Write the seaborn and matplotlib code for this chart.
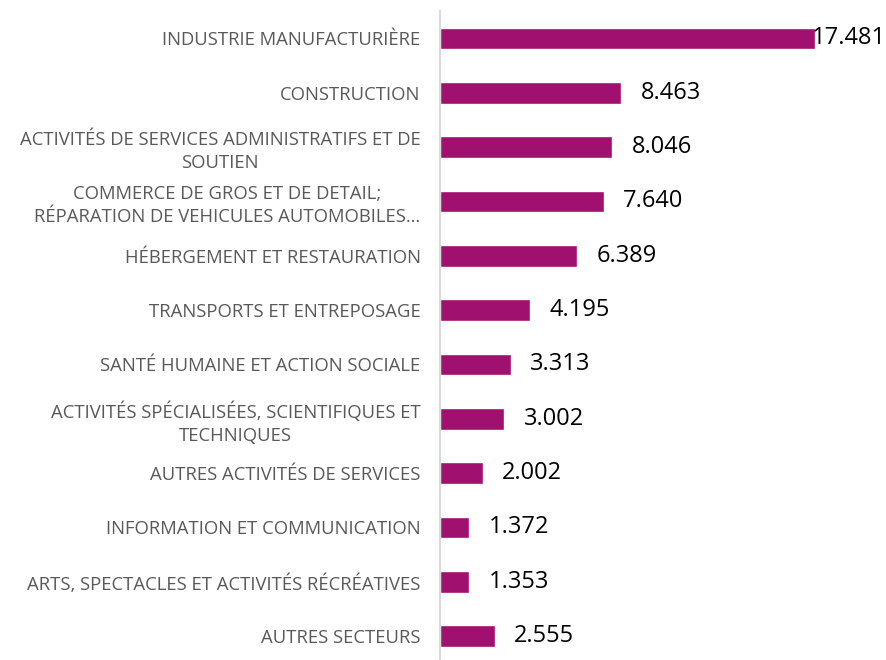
import matplotlib
matplotlib.use("Agg")
import matplotlib.pyplot as plt
import seaborn as sns
import pandas as pd

categories = [
    "INDUSTRIE MANUFACTURIÈRE",
    "CONSTRUCTION",
    "ACTIVITÉS DE SERVICES ADMINISTRATIFS ET DE\nSOUTIEN",
    "COMMERCE DE GROS ET DE DETAIL;\nRÉPARATION DE VEHICULES AUTOMOBILES…",
    "HÉBERGEMENT ET RESTAURATION",
    "TRANSPORTS ET ENTREPOSAGE",
    "SANTÉ HUMAINE ET ACTION SOCIALE",
    "ACTIVITÉS SPÉCIALISÉES, SCIENTIFIQUES ET\nTECHNIQUES",
    "AUTRES ACTIVITÉS DE SERVICES",
    "INFORMATION ET COMMUNICATION",
    "ARTS, SPECTACLES ET ACTIVITÉS RÉCRÉATIVES",
    "AUTRES SECTEURS",
]
values = [17.481, 8.463, 8.046, 7.640, 6.389, 4.195, 3.313, 3.002, 2.002, 1.372, 1.353, 2.555]
value_labels = ["17.481", "8.463", "8.046", "7.640", "6.389", "4.195", "3.313", "3.002",
                "2.002", "1.372", "1.353", "2.555"]

df = pd.DataFrame({"cat": categories, "val": values})

sns.set_theme(style="white")
plt.rcParams["font.family"] = ["Open Sans", "DejaVu Sans"]

fig = plt.figure(figsize=(8.87, 6.6), dpi=100)
ax = fig.add_axes([0.496, -0.005, 0.423, 0.988])

sns.barplot(data=df, x="val", y="cat", color="#A0106E", saturation=1,
            width=0.4, ax=ax, orient="h")

ax.set_xlim(0, 17.5)
ax.set_ylim(11.5, -0.5)
ax.set_xlabel("")
ax.set_ylabel("")
ax.set_xticks([])
for s in ["top", "right", "bottom"]:
    ax.spines[s].set_visible(False)
ax.spines["left"].set_color("#D9D9D9")
ax.spines["left"].set_linewidth(1.5)

ax.tick_params(axis="y", length=0, pad=14)
for lab in ax.get_yticklabels():
    lab.set_fontsize(13.3)
    lab.set_color("#595959")
    lab.set_multialignment("center")
    lab.set_linespacing(1.35)

for i, (v, t) in enumerate(zip(values, value_labels)):
    off = -2 if v == max(values) else 14
    ax.annotate(t, (v, i), xytext=(off, 0), textcoords="offset points",
                ha="left", va="center", fontsize=17, color="black",
                annotation_clip=False)

fig.savefig("out.png", dpi=100)
